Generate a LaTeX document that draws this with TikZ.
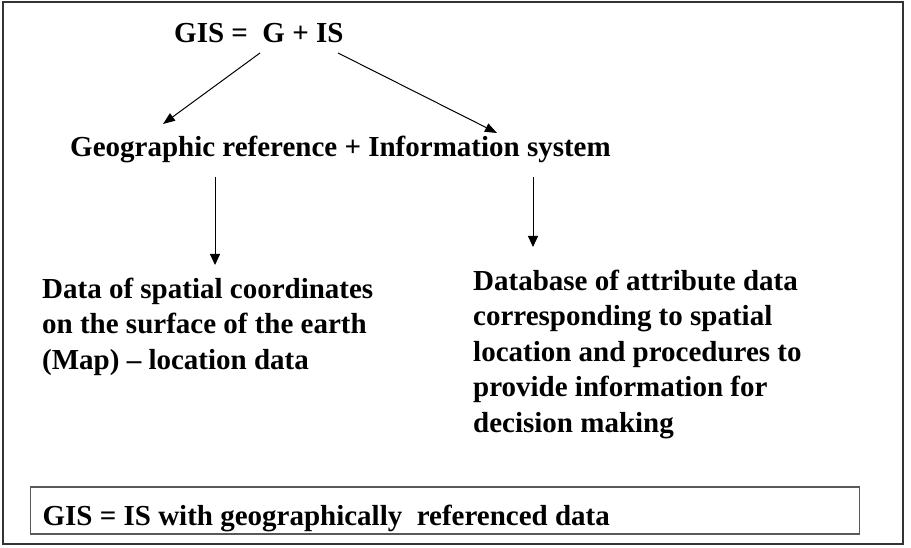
\documentclass[tikz,border=0pt]{standalone}
\usepackage{fontspec}
\setmainfont{Liberation Serif}
\usetikzlibrary{arrows.meta}
\tikzset{
  txt/.style={inner sep=0pt, font=\bfseries\fontsize{29}{36}\selectfont, anchor=base west, align=left},
  arr/.style={line width=1pt, -{Triangle[length=12pt,width=9pt]}},
  varr/.style={line width=1pt, -{Triangle[length=11pt,width=10pt]}},
  frame/.style={draw=black!80, line width=1.5pt},
  boxed/.style={draw=black!65, line width=1.2pt, inner xsep=12pt, inner ysep=0pt,
    text height=38pt, text depth=9pt, anchor=base west, font=\bfseries\fontsize{29}{36}\selectfont}
}
\begin{document}
\begin{tikzpicture}[x=1pt,y=-1pt]
\useasboundingbox (0,0) rectangle (911,548);
\draw[frame] (3,2) rectangle (903,544);
\node[txt] (gis) at (174,43) {GIS = \ G + IS};
\node[txt] (geo) at (70,157) {Geographic reference + Information system};
\node[txt] (loc) at (42,370) {Data of spatial coordinates\\on the surface of the earth\\(Map) -- location data};
\node[txt, font=\bfseries\fontsize{29}{35.5}\selectfont] (db) at (473,432) {Database of attribute data\\corresponding to spatial\\location and procedures to\\provide information for\\decision making};
\node[boxed] (def) at (30,525) {\makebox[805pt][l]{GIS = IS with geographically \ referenced data}};
\coordinate (a1s) at (260,53);
\coordinate (a1e) at (163,124);
\coordinate (a2s) at (338,53);
\coordinate (a2e) at (497,133);
\coordinate (v1s) at (215,177);
\coordinate (v1e) at (215,265);
\coordinate (v2s) at (533,177);
\coordinate (v2e) at (533,247);
\draw[arr] (a1s) -- (a1e);
\draw[arr] (a2s) -- (a2e);
\draw[varr] (v1s) -- (v1e);
\draw[varr] (v2s) -- (v2e);
\end{tikzpicture}
\end{document}
